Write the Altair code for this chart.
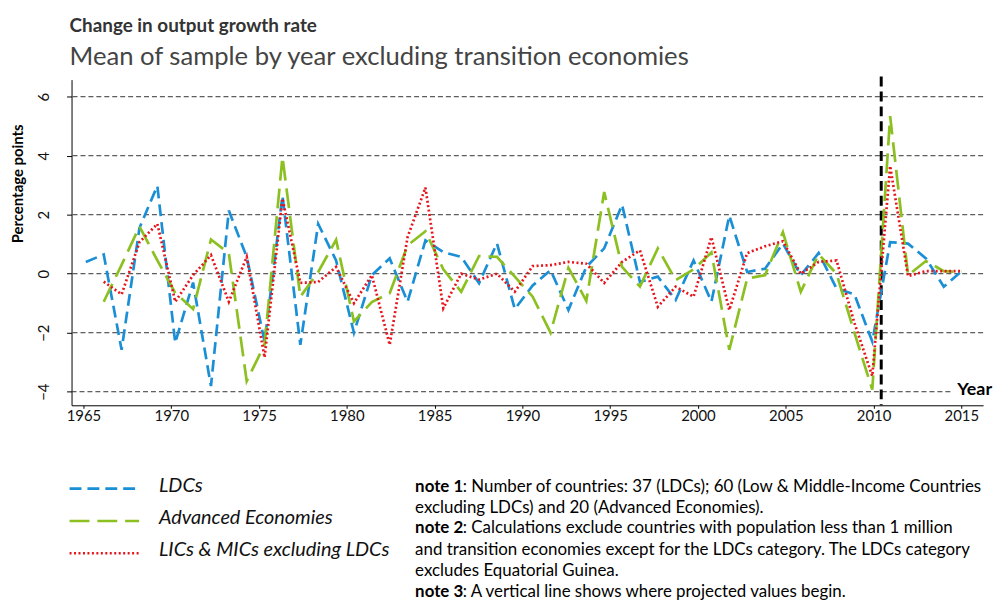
import altair as alt
import pandas as pd

FONT = "Lato"

# ---------------- data ----------------
ldc_years = list(range(1965, 2015))
ldc_values = [0.40, 0.65, -2.58, 1.55, 2.98, -2.34, -0.3, -3.81, 2.14, 0.57,
              -2.30, 2.64, -2.41, 1.69, 0.45, -2.00, -0.05, 0.52, -0.95, 1.13,
              0.73, 0.57, -0.32, 1.03, -1.20, -0.40, 0.12, -1.23, 0.23, 0.86,
              2.34, -0.28, -0.10, -0.89, 0.45, -0.95, 1.97, 0.06, 0.17, 1.02,
              -0.05, 0.70, -0.50, -0.70, -2.30, 1.07, 1.02, 0.52, -0.44, 0.09]

other_years = list(range(1966, 2015))
adv_values = [-0.95, 0.30, 1.60, 0.45, -0.65, -1.20, 1.16, 0.69, -3.64, -2.40,
              3.96, -0.78, 0.06, 1.15, -1.62, -0.96, -0.66, 0.96, 1.44, 0.15,
              -0.61, 0.60, 0.57, -0.10, -0.78, -2.00, 0.20, -0.92, 2.77, 0.23,
              -0.44, 0.86, -0.22, 0.15, 0.72, -2.58, -0.16, -0.05, 1.41, -0.61,
              0.66, 0.00, -2.00, -3.93, 5.34, -0.05, 0.43, 0.09, 0.06]
lic_values = [-0.27, -0.70, 1.07, 1.69, -0.95, -0.05, 0.63, -0.95, 0.57, -2.84,
              2.55, -0.31, -0.28, 0.23, -1.00, -0.05, -2.41, 1.24, 2.92, -1.17,
              0.00, -0.20, 0.00, -0.61, 0.26, 0.29, 0.40, 0.34, -0.31, 0.40,
              0.79, -1.12, -0.44, -0.78, 1.24, -1.23, 0.70, 0.93, 1.10, 0.00,
              0.40, 0.45, -1.67, -3.47, 3.65, -0.08, 0.09, 0.09, 0.09]

series_names = ["LDCs", "Advanced Economies", "LICs & MICs excluding LDCs"]
series_colors = ["#1a8fd6", "#8cc021", "#e8141c"]
series_dashes = [[12, 6], [20, 8], [2, 2.5]]

grid_values = [6, 4, 2, 0, -2, -4]
x_tick_values = list(range(1965, 2016, 5))
projection_year = [2009.5]

title_text = "Change in output growth rate"
subtitle_text = "Mean of sample by year excluding transition economies"
y_title = "Percentage points"
x_title = "Year"
note_heads = ["note 1", "", "note 2", "", "", "note 3"]
note_bodies = [": Number of countries: 37 (LDCs); 60 (Low & Middle-Income Countries",
               "excluding LDCs) and 20 (Advanced Economies).",
               ": Calculations exclude countries with population less than 1 million",
               "and transition economies except for the LDCs category. The LDCs category",
               "excludes Equatorial Guinea.",
               ": A vertical line shows where projected values begin."]

# ---------------- tables ----------------
df = pd.concat([
    pd.DataFrame({"year": ldc_years, "value": ldc_values, "series": series_names[0]}),
    pd.DataFrame({"year": other_years, "value": adv_values, "series": series_names[1]}),
    pd.DataFrame({"year": other_years, "value": lic_values, "series": series_names[2]}),
], ignore_index=True)
grid_df = pd.DataFrame({"value": grid_values})
vline_df = pd.DataFrame({"year": projection_year})
tick_df = pd.DataFrame({"tick": x_tick_values})
notes_df = pd.DataFrame({"head": note_heads, "body": note_bodies, "line": list(range(len(note_heads)))})
legend_df = pd.DataFrame({"series": series_names})
text_df = pd.DataFrame({"title": [title_text], "subtitle": [subtitle_text],
                        "ytitle": [y_title], "xtitle": [x_title]})

W, H = 918, 328
xs = alt.Scale(domain=[1964.2, 2015.2], nice=False, zero=False)
# the year axis of the original is drawn on its own, slightly tighter scale
xs_axis = alt.Scale(domain=[1964.32, 2016.24], nice=False, zero=False)
ys = alt.Scale(domain=[-4.46, 6.58], nice=False, zero=False)

x_axis = alt.Axis(values=x_tick_values, format="d", title=None, grid=False, orient="bottom",
                  labelFontSize=15, labelFont=FONT, labelColor="#111",
                  domainColor="#000", domainWidth=1, tickColor="#000", tickSize=3,
                  labelPadding=0)
y_axis = alt.Axis(values=grid_values, title=None, grid=False, labelAngle=270,
                  labelAlign="center", labelBaseline="bottom",
                  labelFontSize=15, labelFont=FONT, labelColor="#111",
                  domainColor="#000", domainWidth=1, tickColor="#000", tickSize=5,
                  labelPadding=15)

X = lambda f: alt.X(f, scale=xs, axis=None)
Y = lambda f: alt.Y(f, scale=ys, axis=y_axis)

axis_layer = alt.Chart(tick_df).mark_point(opacity=0).encode(
    x=alt.X("tick:Q", scale=xs_axis, axis=x_axis), y=alt.value(H))

grid = alt.Chart(grid_df).transform_filter("datum.value != -4").mark_rule(
    color="#333", strokeWidth=1, strokeDash=[5, 3]).encode(y=Y("value:Q"))
grid_low = alt.Chart(grid_df).transform_filter("datum.value == -4").mark_rule(
    color="#333", strokeWidth=1, strokeDash=[5, 3]).encode(
    y=Y("value:Q"), x=alt.value(0), x2=alt.value(886))

vline = alt.Chart(vline_df).mark_rule(color="#000", strokeWidth=3, strokeDash=[10, 5]).encode(
    x=X("year:Q"), y=alt.value(-3), y2=alt.value(H))

line_layers = []
for i, name in enumerate(series_names):
    line_layers.append(
        alt.Chart(df).transform_filter(alt.datum.series == name).mark_line(
            color=series_colors[i], strokeDash=series_dashes[i], strokeWidth=2.7,
            strokeCap="butt").encode(
            x=X("year:Q"), y=Y("value:Q"), order="year:Q")
    )

legend_layers = []
for i, name in enumerate(series_names):
    yy = 412 + 32.5 * i
    legend_layers.append(
        alt.Chart(legend_df).transform_filter(alt.datum.series == name).mark_rule(
            color=series_colors[i], strokeDash=series_dashes[i], strokeWidth=2.7).encode(
            x=alt.value(-2), x2=alt.value(68), y=alt.value(yy)))
    legend_layers.append(
        alt.Chart(legend_df).transform_filter(alt.datum.series == name).mark_text(
            font=FONT, fontSize=20, fontStyle="italic", align="left", baseline="middle",
            color="#111").encode(
            text="series:N", x=alt.value(88), y=alt.value(yy - 3)))

title_mark = alt.Chart(text_df).mark_text(font=FONT, fontSize=19, fontWeight="bold",
                                          align="left", baseline="alphabetic", color="#333").encode(
    text="title:N", x=alt.value(-2), y=alt.value(-48))
subtitle_mark = alt.Chart(text_df).mark_text(font=FONT, fontSize=25.8, align="left",
                                             baseline="alphabetic", color="#444").encode(
    text="subtitle:N", x=alt.value(-2), y=alt.value(-15))
ytitle_mark = alt.Chart(text_df).mark_text(font=FONT, fontSize=15, fontWeight="bold", angle=270,
                                           align="center", baseline="middle", color="#000").encode(
    text="ytitle:N", x=alt.value(-54), y=alt.value(105))
xtitle_mark = alt.Chart(text_df).mark_text(font=FONT, fontSize=18, fontWeight="bold",
                                           align="left", baseline="middle", color="#000").encode(
    text="xtitle:N", x=alt.value(892), y=alt.value(313))

note_baselines = [415, 436, 457, 479, 500, 521]
note_layers = []
for i in range(len(note_heads)):
    sel = notes_df[notes_df["line"] == i]
    if note_heads[i]:
        note_layers.append(alt.Chart(sel).mark_text(
            font=FONT, fontSize=17, fontWeight="bold", align="left", baseline="alphabetic",
            color="#000").encode(text="head:N", x=alt.value(346), y=alt.value(note_baselines[i])))
    note_layers.append(alt.Chart(sel).mark_text(
        font=FONT, fontSize=17, align="left", baseline="alphabetic", color="#000").encode(
        text="body:N", x=alt.value(394 if note_heads[i] else 346), y=alt.value(note_baselines[i])))

chart = alt.layer(axis_layer, grid, grid_low, vline, *line_layers, *legend_layers,
                  title_mark, subtitle_mark, ytitle_mark, xtitle_mark,
                  *note_layers).resolve_scale(x="independent").properties(
    width=W, height=H,
    autosize=alt.AutoSizeParams(type="none"),
    padding={"left": 64, "top": 70, "right": 14, "bottom": 197},
).configure_view(stroke=None)

chart.save("out.html", embed_options={"renderer": "svg", "actions": False})
